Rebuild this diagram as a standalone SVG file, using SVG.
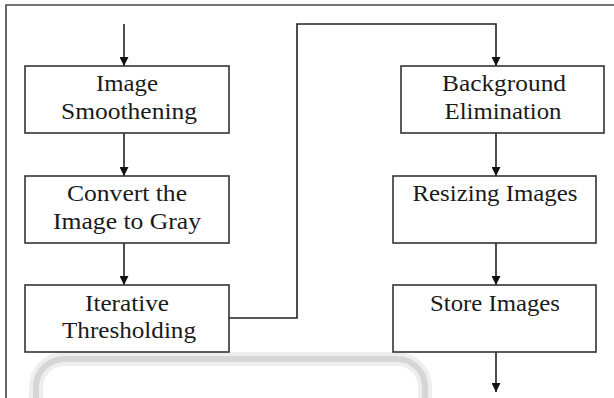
<svg xmlns="http://www.w3.org/2000/svg" width="614" height="398" viewBox="0 0 614 398">
<style>
.box{fill:#fff;stroke:#333;stroke-width:1.6}
.lbl{font-family:"Liberation Serif","Times New Roman",serif;font-size:23px;fill:#1a1a1a;text-anchor:middle}
.con{fill:none;stroke:#222;stroke-width:1.6}
</style>
<defs>
<marker id="ah" viewBox="0 0 10 10" refX="10" refY="5" markerWidth="9" markerHeight="9" markerUnits="userSpaceOnUse" orient="auto">
<path d="M0,0 L10,5 L0,10 z" fill="#111"/>
</marker>
</defs>
<rect width="614" height="398" fill="#fff"/>
<g id="frame">
<path d="M6,400 L6,5 L616,5" fill="none" stroke="#444" stroke-width="1.6"/>
</g>
<g id="watermark">
<rect x="36" y="359" width="389" height="90" rx="28" fill="none" stroke="#eeeeee" stroke-width="14"/>
<rect x="36" y="359" width="389" height="90" rx="28" fill="none" stroke="#d6d6d6" stroke-width="6"/>
</g>
<g id="connectors">
<line class="con" x1="124" y1="24" x2="124" y2="66" marker-end="url(#ah)"/>
<line class="con" x1="124" y1="133" x2="124" y2="176" marker-end="url(#ah)"/>
<line class="con" x1="124" y1="243" x2="124" y2="285" marker-end="url(#ah)"/>
<path class="con" d="M229,318 L297,318 L297,24 L496,24 L496,66" marker-end="url(#ah)"/>
<line class="con" x1="496" y1="133" x2="496" y2="176" marker-end="url(#ah)"/>
<line class="con" x1="496" y1="243" x2="496" y2="285" marker-end="url(#ah)"/>
<line class="con" x1="496" y1="352" x2="496" y2="392" marker-end="url(#ah)"/>
</g>
<g id="image-smoothening">
<rect class="box" x="25" y="66" width="204" height="67"/>
<text class="lbl" x="127" y="91" textLength="62" lengthAdjust="spacingAndGlyphs">Image</text>
<text class="lbl" x="129" y="119" textLength="136" lengthAdjust="spacingAndGlyphs">Smoothening</text>
</g>
<g id="convert-gray">
<rect class="box" x="25" y="176" width="204" height="67"/>
<text class="lbl" x="127" y="201" textLength="120" lengthAdjust="spacingAndGlyphs">Convert the</text>
<text class="lbl" x="127" y="229" textLength="148" lengthAdjust="spacingAndGlyphs">Image to Gray</text>
</g>
<g id="iterative-thresholding">
<rect class="box" x="25" y="285" width="204" height="67"/>
<text class="lbl" x="127" y="311" textLength="84" lengthAdjust="spacingAndGlyphs">Iterative</text>
<text class="lbl" x="129" y="338" textLength="134" lengthAdjust="spacingAndGlyphs">Thresholding</text>
</g>
<g id="background-elimination">
<rect class="box" x="401" y="66" width="203" height="67"/>
<text class="lbl" x="504" y="91" textLength="124" lengthAdjust="spacingAndGlyphs">Background</text>
<text class="lbl" x="503" y="119" textLength="117" lengthAdjust="spacingAndGlyphs">Elimination</text>
</g>
<g id="resizing-images">
<rect class="box" x="393" y="176" width="203" height="67"/>
<text class="lbl" x="495" y="201" textLength="165" lengthAdjust="spacingAndGlyphs">Resizing Images</text>
</g>
<g id="store-images">
<rect class="box" x="393" y="285" width="203" height="67"/>
<text class="lbl" x="495" y="311" textLength="130" lengthAdjust="spacingAndGlyphs">Store Images</text>
</g>
</svg>
